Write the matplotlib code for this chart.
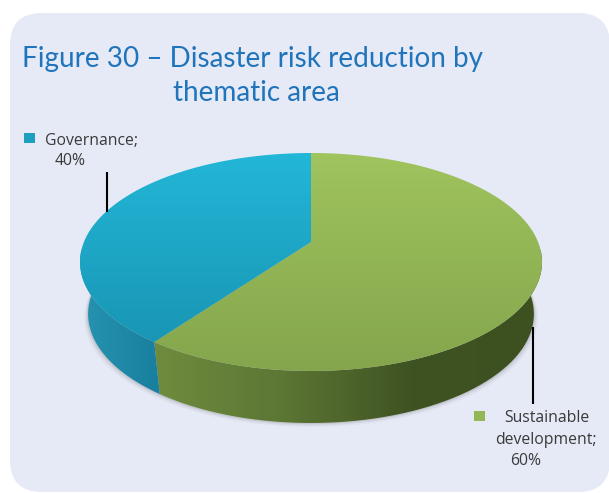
import numpy as np
import matplotlib
matplotlib.use("Agg")
import matplotlib.pyplot as plt
from matplotlib.patches import FancyBboxPatch, PathPatch, Rectangle
from matplotlib.path import Path
from matplotlib.colors import LinearSegmentedColormap

categories = ["Sustainable development", "Governance"]
values = [60, 40]
title_lines = ["Figure 30 – Disaster risk reduction by", "thematic area"]

W, H = 609, 493
fig = plt.figure(figsize=(W / 100, H / 100), dpi=100, facecolor="white")
ax = fig.add_axes([0, 0, 1, 1])
ax.set_xlim(0, W)
ax.set_ylim(H, 0)
ax.axis("off")

ax.add_patch(FancyBboxPatch((10 + 32, 13 + 32), 600 - 64, 479 - 64,
                            boxstyle="round,pad=32,rounding_size=32",
                            fc="#e6eaf6", ec="none", zorder=0))

CX, CY, RX, RY, SHIFT = 311.0, 262.0, 231.0, 109.0, 20.0
C = SHIFT / RY
DEPTH, SHRINK = 52.0, 0.965


def project(a, scale=1.0, dy=0.0):
    """Perspective view of a point on the unit circle, clockwise from 12 o'clock."""
    u, v = np.sin(a), np.cos(a)
    w = 1 + C * v
    d = RX * np.sqrt(1 - C ** 2)
    return CX + scale * d * u / w, CY + dy - (RY * v + SHIFT) / w


def grad(path, colors, horizontal, extent, z):
    cmap = LinearSegmentedColormap.from_list("g", colors)
    g = np.linspace(0, 1, 256)
    g = g[None, :] if horizontal else g[:, None]
    im = ax.imshow(g, cmap=cmap, extent=extent, origin="lower" if horizontal else "upper",
                   aspect="auto", zorder=z, interpolation="bilinear")
    p = PathPatch(path, fc="none", ec="none", transform=ax.transData)
    ax.add_patch(p)
    im.set_clip_path(p)
    ax.set_xlim(0, W)
    ax.set_ylim(H, 0)


fractions = np.cumsum([0] + values) / sum(values) * 2 * np.pi
top_cols = [["#a0c45e", "#84a54c"], ["#23b7d8", "#1790ae"]]
wall_cols = [["#6f8c3e", "#5c7634", "#3f5222", "#3d5020"], ["#2794b1", "#187f9e"]]

# soft shadow under the pie
for grow, alpha in ((4, 0.05), (2.5, 0.08), (1.2, 0.12)):
    t = np.linspace(0, 2 * np.pi, 300)
    x, y = project(t, SHRINK, DEPTH)
    ax.fill(CX + (x - CX) * (1 + grow / RX), y + grow, color="#555555", alpha=alpha, lw=0, zorder=1)

for i in range(len(values)):
    a0, a1 = fractions[i], fractions[i + 1]
    t = np.linspace(a0, a1, 300)

    # side wall: only the part of the rim that faces the viewer
    lo = np.unique(np.clip(t, np.pi / 2, 3 * np.pi / 2))
    xt, yt = project(lo)
    xb, yb = project(lo, SHRINK, DEPTH)
    verts = np.r_[np.c_[xt, yt], np.c_[xb, yb][::-1], [[xt[0], yt[0]]]]
    grad(Path(verts), wall_cols[i], True, (verts[:, 0].min(), verts[:, 0].max(), 430, 250), 2)

    # top face
    xt, yt = project(t)
    cx0, cy0 = CX, CY - SHIFT
    verts = np.r_[[[cx0, cy0]], np.c_[xt, yt], [[cx0, cy0]]]
    grad(Path(verts), top_cols[i], False, (70, 550, 375, 150), 3)

# leader lines
ax.plot([107, 107], [172, 212], color="black", lw=1.5, zorder=5, solid_capstyle="butt")
ax.plot([532.5, 532.5], [327, 404], color="black", lw=1.5, zorder=5, solid_capstyle="butt")

# labels
ax.add_patch(Rectangle((24, 133), 11, 10, fc="#1f9fbf", ec="none", zorder=5))
ax.add_patch(Rectangle((474, 411), 11, 10, fc="#94b755", ec="none", zorder=5))
lab = dict(family="Open Sans", fontsize=11.3, color="#3a3a3a", va="center", zorder=6)
ax.text(44.5, 141, f"{categories[1].split()[0]};", ha="left", **lab)
ax.text(55, 161, f"{values[1]}%", ha="left", **lab)
ax.text(504, 417.5, "Sustainable", ha="left", **lab)
ax.text(495, 439.5, "development;", ha="left", **lab)
ax.text(510, 461, f"{values[0]}%", ha="left", **lab)

# title
tt = dict(family="Lato", fontsize=20.1, color="#1f74bb", va="baseline", ha="left", zorder=6)
ax.text(22, 67, title_lines[0], **tt)
ax.text(173, 101, title_lines[1], **tt)

fig.savefig("out.png", dpi=100, facecolor="white")
